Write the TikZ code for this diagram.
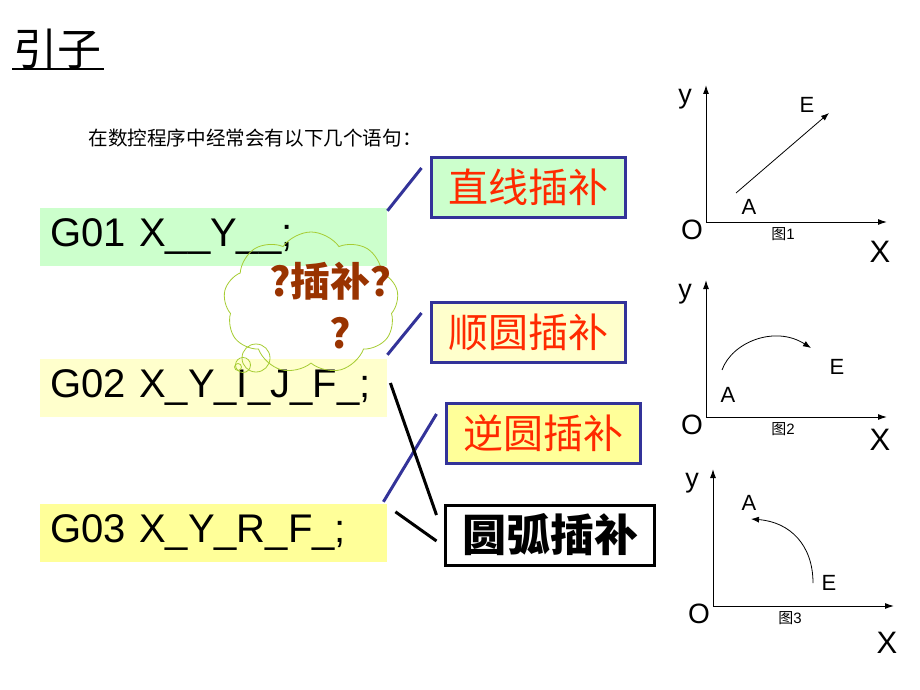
\documentclass[tikz,border=0pt]{standalone}
\usepackage{fontspec}
\setmainfont{Liberation Sans}
\newfontfamily\cjk{Noto Sans CJK SC}
\usetikzlibrary{shapes.symbols,arrows.meta}
\definecolor{codegreen}{HTML}{CCFFCC}
\definecolor{codepale}{HTML}{FFFFCC}
\definecolor{codegold}{HTML}{FFFF99}
\definecolor{boxblue}{HTML}{333399}
\definecolor{kindred}{HTML}{FF2A00}
\definecolor{askbrown}{HTML}{993300}
\definecolor{cloudline}{HTML}{A6CC33}
\begin{document}
\begin{tikzpicture}[x=1pt,y=-1pt]
    \tikzstyle{code}=[anchor=west,minimum height=58pt,text width=327pt,inner xsep=10pt,font=\fontsize{40}{40}\selectfont]
    \tikzstyle{kind}=[draw=boxblue,line width=3pt,minimum width=194pt,minimum height=60pt,text=kindred,font=\cjk\fontsize{40}{40}\selectfont]
    \tikzstyle{bluelink}=[draw=boxblue,line width=3pt]
    \tikzstyle{blacklink}=[draw=black,line width=3pt]
    \tikzstyle{bubble}=[circle,draw=cloudline,line width=.8pt,inner sep=0pt]
    \tikzstyle{axis}=[line width=1pt,-{Latex[length=9pt,width=6pt]}]
    \tikzstyle{move}=[line width=.8pt,-{Latex[length=8pt,width=6pt]}]
    \tikzstyle{lab}=[inner sep=0pt,font=\fontsize{22}{22}\selectfont]
    \useasboundingbox (0,0) rectangle (920,690);
    \node[inner sep=0pt,font=\cjk\fontsize{44}{44}\selectfont] (title) at (57,49) {引子};
    \draw[line width=1.5pt] (12,69) -- (104,69);
    \node[inner sep=0pt,font=\cjk\fontsize{19.6}{20}\selectfont] (intro) at (255,138) {在数控程序中经常会有以下几个语句：};
    \node[code,fill=codegreen] (g01) at (40,236.5) {G01 X\_\_Y\_\_;};
    \node[code,fill=codepale] (g02) at (40,388) {G02 X\_Y\_I\_J\_F\_;};
    \node[code,fill=codegold] (g03) at (40,533) {G03 X\_Y\_R\_F\_;};
    \node[kind,fill=codegreen] (zx) at (528.5,187.5) {直线插补};
    \node[kind,fill=codepale] (sy) at (528.5,332) {顺圆插补};
    \node[kind,fill=codegold] (ny) at (543,433.5) {逆圆插补};
    \node[kind,draw=black,text=black,minimum width=209pt,font=\cjk\bfseries\fontsize{44}{44}\selectfont] (yh) at (550,535) {圆弧插补};
    \draw[bluelink] ([yshift=-3.5pt]g01.north east) -- ([xshift=-8.5pt,yshift=19.5pt]zx.west);
    \draw[bluelink] ([yshift=4pt]g02.north east) -- ([xshift=-8.5pt,yshift=19pt]sy.west);
    \draw[bluelink] ([xshift=-4pt,yshift=2pt]g03.north east) -- ([xshift=-8pt,yshift=19.5pt]ny.west);
    \draw[blacklink] ([xshift=3pt,yshift=5pt]g02.east) -- ([xshift=-7.5pt,yshift=20pt]yh.west);
    \draw[blacklink] ([xshift=8pt,yshift=-8pt]g03.north east) -- ([xshift=-7.5pt,yshift=-6pt]yh.west);
    \node[cloud,cloud puffs=9,cloud puff arc=110,cloud ignores aspect,draw=cloudline,line width=.8pt,minimum width=175pt,minimum height=142pt] (yun) at (311,303) {};
    \node[bubble,minimum size=28pt] (b1) at (256,358) {};
    \node[bubble,minimum size=15pt] (b2) at (243,365) {};
    \node[bubble,minimum size=7pt] (b3) at (238,367) {};
    \node[align=center,text=askbrown,font=\cjk\bfseries\fontsize{40}{52}\selectfont] (ask) at (340,306) {?插补？\\?};
    \foreach \n/\ox/\oy/\xd in {1/706/222/30,2/706/417/23,3/713/606/37} {
      \coordinate (o\n) at (\ox,\oy);
      \draw[axis] (o\n) -- ++(0,-137);
      \draw[axis] (o\n) -- ++(181,0);
      \node[inner sep=0pt,font=\fontsize{27}{27}\selectfont] (ylab\n) at ([shift={(-21,-123)}]o\n) {y};
      \node[inner sep=0pt,font=\fontsize{28}{28}\selectfont] (olab\n) at ([shift={(-14,8)}]o\n) {O};
      \node[inner sep=0pt,font=\fontsize{31}{31}\selectfont] (xlab\n) at ([shift={(174,\xd)}]o\n) {X};
      \node[inner sep=0pt,font=\fontsize{15}{15}\selectfont] (fig\n) at ([shift={(77,12)}]o\n) {{\cjk 图}\n};
    }
    \coordinate (a1) at (736,193);
    \coordinate (e1) at (829,113);
    \draw[move] (a1) -- (e1);
    \node[lab] (alab1) at (749,207) {A};
    \node[lab] (elab1) at (807,105) {E};
    \coordinate (a2) at (722,370);
    \coordinate (e2) at (811,348);
    \draw[move] (a2) .. controls (732,342) and (775,325) .. (e2);
    \node[lab] (alab2) at (728,395) {A};
    \node[lab] (elab2) at (837,367) {E};
    \coordinate (e3) at (813,583);
    \coordinate (a3) at (751,519);
    \draw[move] (e3) .. controls (813,545) and (790,522) .. (a3);
    \node[lab] (alab3) at (749,503) {A};
    \node[lab] (elab3) at (829,583) {E};
\end{tikzpicture}
\end{document}
